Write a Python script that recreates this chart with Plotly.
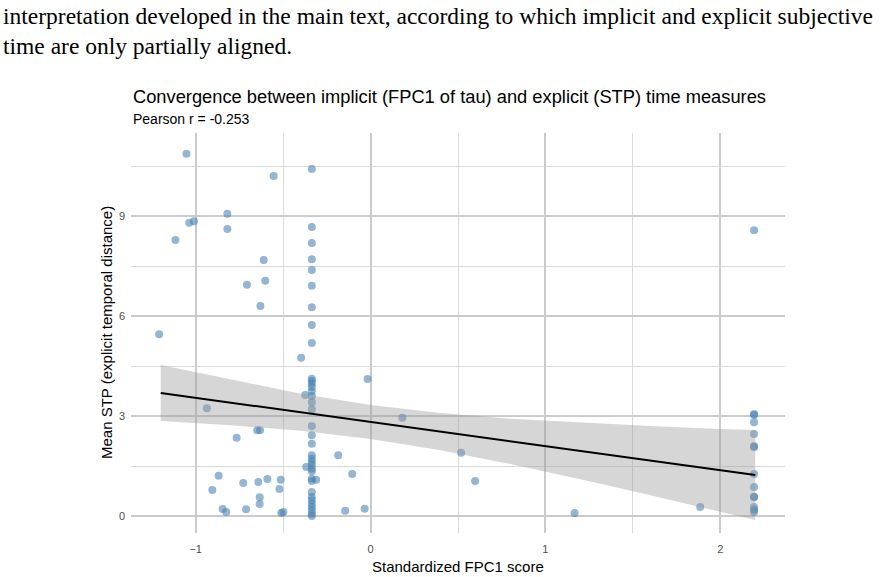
import plotly.graph_objects as go

# ---- data ----
scatter_x = [-1.209, -1.053, -0.554, -0.819, -1.010, -1.037, -0.819, -1.116, -0.611, -0.602,
             -0.707, -0.630, -0.397, -0.374, -0.017, -0.936, -0.648, -0.632, -0.766, -0.869,
             -0.728, -0.642, -0.590, -0.514, -0.521, -0.905, -0.634, -0.634, -0.846, -0.825,
             -0.712, -0.510, -0.499, -0.368, -0.311, -0.185, -0.105, -0.145, -0.034, 0.182,
             0.518, 0.598, 1.167, 1.885]
scatter_y = [5.46, 10.88, 10.21, 9.08, 8.85, 8.81, 8.62, 8.29, 7.69, 7.07,
             6.95, 6.31, 4.76, 3.64, 4.12, 3.24, 2.58, 2.58, 2.36, 1.22,
             1.00, 1.03, 1.12, 1.10, 0.82, 0.79, 0.57, 0.37, 0.22, 0.13,
             0.21, 0.10, 0.13, 1.48, 1.10, 1.83, 1.27, 0.17, 0.23, 2.96,
             1.91, 1.06, 0.10, 0.28]

column_a_x = -0.336
column_a_y = [10.42, 8.68, 8.20, 7.71, 7.39, 6.92, 6.27, 5.74, 5.20, 4.13, 4.06, 3.98,
              3.88, 3.75, 3.61, 3.42, 3.21, 2.71, 2.43, 2.18, 1.83, 1.73, 1.63, 1.53,
              1.43, 1.35, 1.13, 1.06, 0.73, 0.58, 0.48, 0.38, 0.28, 0.18, 0.08, 0.01]

column_b_x = 2.193
column_b_y = [8.58, 3.07, 3.04, 2.82, 2.47, 2.11, 2.07, 1.27, 0.88, 0.59, 0.57, 0.28, 0.20, 0.13]

fit_x = [-1.2, 2.2]
fit_y = [3.70, 1.24]

band_x = [-1.2, -0.8, -0.4, 0.0, 0.4, 0.8, 1.2, 1.6, 2.0, 2.2]
band_lo = [2.86, 2.73, 2.57, 2.32, 1.98, 1.57, 1.11, 0.63, 0.14, -0.11]
band_hi = [4.54, 4.10, 3.68, 3.34, 3.10, 2.93, 2.81, 2.71, 2.62, 2.59]

x_ticks = [-1, 0, 1, 2]
y_ticks = [0, 3, 6, 9]

title_text = "Convergence between implicit (FPC1 of tau) and explicit (STP) time measures"
subtitle_text = "Pearson r = -0.253"
x_title = "Standardized FPC1 score"
y_title = "Mean STP (explicit temporal distance)"
page_lines = ["interpretation developed in the main text, according to which implicit and explicit subjective",
              "time are only partially aligned."]

# ---- figure ----
all_x = scatter_x + [column_a_x] * len(column_a_y) + [column_b_x] * len(column_b_y)
all_y = scatter_y + column_a_y + column_b_y

fig = go.Figure()
fig.add_trace(go.Scatter(
    x=all_x, y=all_y, mode="markers",
    marker=dict(size=8, color="rgba(70,130,180,0.58)", line=dict(width=0)),
    showlegend=False, hoverinfo="skip"))
fig.add_trace(go.Scatter(
    x=band_x + band_x[::-1], y=band_hi + band_lo[::-1],
    fill="toself", fillcolor="rgba(153,153,153,0.4)", line=dict(width=0),
    mode="lines", showlegend=False, hoverinfo="skip"))
fig.add_trace(go.Scatter(
    x=fit_x, y=fit_y, mode="lines", line=dict(color="black", width=2),
    showlegend=False, hoverinfo="skip"))

W, H = 883, 577
L, R, T, B = 131, 98, 133, 44
plot_w = W - L - R
plot_h = H - T - B

def py_to_paper(py):
    return 1 + (T - py) / plot_h

def px_to_paper(px):
    return (px - L) / plot_w

grid_major = "#cbcbcb"
grid_minor = "#d9d9d9"
font_main = "Liberation Sans, Arial, sans-serif"

fig.update_layout(
    width=W, height=H,
    margin=dict(l=L, r=R, t=T, b=B),
    plot_bgcolor="white", paper_bgcolor="white",
    font=dict(family=font_main, color="black"),
    xaxis=dict(range=[-1.37, 2.37], tickvals=x_ticks, showgrid=True, automargin=False,
               gridcolor=grid_major, gridwidth=1.5, zeroline=False, showline=False,
               ticks="", ticklabelstandoff=8, tickfont=dict(size=11, color="#4d4d4d"),
               minor=dict(dtick=0.5, tick0=0, showgrid=True, gridcolor=grid_minor, gridwidth=1.2)),
    yaxis=dict(range=[-0.5, 11.5], tickvals=y_ticks, showgrid=True, automargin=False,
               gridcolor=grid_major, gridwidth=1.5, zeroline=False, showline=False,
               ticks="", ticklabelstandoff=5, tickfont=dict(size=11, color="#4d4d4d"),
               minor=dict(dtick=1.5, tick0=0, showgrid=True, gridcolor=grid_minor, gridwidth=1.2)),
)

annotations = [
    dict(text=title_text, xref="paper", yref="paper", x=0, y=py_to_paper(97),
         xanchor="left", yanchor="middle", showarrow=False,
         font=dict(size=18.3, color="black", family=font_main)),
    dict(text=subtitle_text, xref="paper", yref="paper", x=0, y=py_to_paper(119),
         xanchor="left", yanchor="middle", showarrow=False,
         font=dict(size=14, color="black", family=font_main)),
    dict(text=x_title, xref="paper", yref="paper", x=0.5, y=py_to_paper(566),
         xanchor="center", yanchor="middle", showarrow=False,
         font=dict(size=15, color="black", family=font_main)),
    dict(text=y_title, xref="paper", yref="paper", x=px_to_paper(106), y=0.5,
         xanchor="center", yanchor="middle", showarrow=False, textangle=-90,
         font=dict(size=15, color="black", family=font_main)),
]
for i, line in enumerate(page_lines):
    annotations.append(dict(
        text=line, xref="paper", yref="paper", x=px_to_paper(1), y=py_to_paper(16 + 30 * i),
        xanchor="left", yanchor="middle", showarrow=False,
        font=dict(size=23.5, color="black", family="Liberation Serif, serif")))
fig.update_layout(annotations=annotations)

fig.write_html("out.html")
